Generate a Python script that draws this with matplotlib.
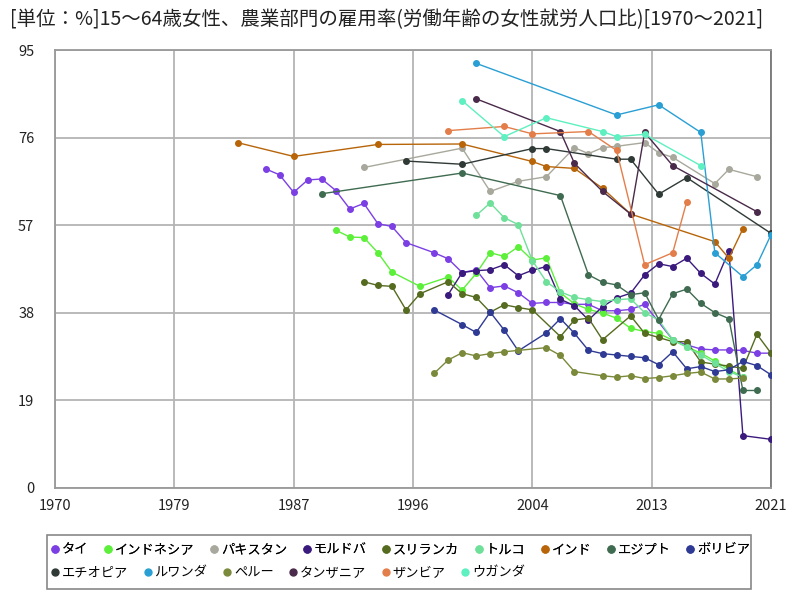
import matplotlib.pyplot as plt
from matplotlib.lines import Line2D
from matplotlib.patches import Rectangle

plt.rcParams['font.family'] = ['Noto Sans CJK JP', 'DejaVu Sans']

# values (year -> % of working-age women)
thai_years = [1985, 1986, 1987, 1988, 1989, 1990, 1991, 1992, 1993, 1994, 1995, 1997, 1998, 1999, 2000,
              2001, 2002, 2003, 2004, 2005, 2006, 2007, 2008, 2009, 2010, 2011, 2012, 2014, 2015, 2016,
              2017, 2018, 2019, 2020, 2021]
thai_vals = [69.2, 67.9, 64.1, 66.8, 67.0, 64.5, 60.5, 61.7, 57.3, 56.7, 53.2, 51.0, 49.7, 46.7, 47.3,
             43.4, 43.8, 42.3, 40.0, 40.2, 40.2, 39.8, 39.8, 38.4, 38.4, 38.7, 39.8, 32.1, 31.0, 30.1,
             29.9, 29.9, 29.8, 29.2, 29.2]

indonesia_years = [1990, 1991, 1992, 1993, 1994, 1996, 1998, 1999, 2000, 2001, 2002, 2003, 2004, 2005,
                   2006, 2007, 2008, 2009, 2010, 2011, 2012, 2013, 2014, 2015, 2016, 2017, 2018, 2019]
indonesia_vals = [55.9, 54.4, 54.3, 51.0, 46.8, 43.7, 45.7, 42.9, 46.5, 51.0, 50.2, 52.3, 49.4, 49.9,
                  42.3, 39.9, 38.7, 37.9, 36.8, 34.6, 33.9, 33.5, 32.0, 30.6, 29.2, 27.5, 25.7, 24.0]

pakistan_years = [1992, 1999, 2001, 2003, 2005, 2007, 2008, 2009, 2010, 2012, 2013, 2014, 2017, 2018, 2020]
pakistan_vals = [69.5, 73.7, 64.3, 66.5, 67.5, 73.8, 72.5, 73.8, 74.1, 74.9, 72.7, 71.7, 66.0, 69.1, 67.5]

moldova_years = [1998, 1999, 2000, 2001, 2002, 2003, 2004, 2005, 2006, 2007, 2008, 2009, 2010, 2011,
                 2012, 2013, 2014, 2015, 2016, 2017, 2018, 2019, 2021]
moldova_vals = [41.9, 46.7, 47.1, 47.3, 48.4, 46.0, 47.2, 48.0, 40.9, 39.5, 36.4, 39.3, 41.2, 42.2,
                46.2, 48.6, 48.0, 49.8, 46.5, 44.2, 51.4, 11.3, 10.5]

srilanka_years = [1992, 1993, 1994, 1995, 1996, 1998, 1999, 2000, 2001, 2002, 2003, 2004, 2006, 2007,
                  2008, 2009, 2011, 2012, 2013, 2014, 2015, 2016, 2017, 2018, 2019, 2020, 2021]
srilanka_vals = [44.7, 43.9, 43.7, 38.6, 42.1, 44.7, 42.1, 41.3, 38.1, 39.7, 39.1, 38.6, 32.8, 36.4,
                 36.8, 32.1, 37.3, 33.5, 32.6, 31.7, 31.7, 27.3, 26.8, 26.4, 25.9, 33.3, 29.2]

turkey_years = [2000, 2001, 2002, 2003, 2004, 2005, 2006, 2007, 2008, 2009, 2010, 2011, 2012, 2013,
                2014, 2015, 2016, 2017, 2018, 2019]
turkey_vals = [59.1, 61.8, 58.6, 57.1, 49.3, 44.7, 42.5, 41.3, 40.8, 40.4, 40.8, 41.0, 38.0, 36.4,
               32.1, 30.5, 28.8, 27.0, 25.2, 24.0]

india_years = [1983, 1987, 1993, 1999, 2004, 2005, 2007, 2009, 2011, 2017, 2018, 2019]
india_vals = [74.9, 71.9, 74.5, 74.6, 70.8, 69.7, 69.3, 65.0, 59.4, 53.4, 49.8, 56.2]

egypt_years = [1989, 1999, 2006, 2008, 2009, 2010, 2011, 2012, 2013, 2014, 2015, 2016, 2017, 2018,
               2019, 2020]
egypt_vals = [63.8, 68.3, 63.4, 46.2, 44.6, 44.0, 41.9, 42.3, 36.5, 42.1, 43.1, 40.0, 38.0, 36.7,
              21.1, 21.1]

bolivia_years = [1997, 1999, 2000, 2001, 2002, 2003, 2005, 2006, 2007, 2008, 2009, 2010, 2011, 2012,
                 2013, 2014, 2015, 2016, 2017, 2018, 2019, 2020, 2021]
bolivia_vals = [38.6, 35.4, 33.7, 38.1, 34.2, 29.7, 33.6, 36.7, 33.5, 29.8, 29.1, 28.8, 28.5, 28.2,
                26.7, 29.5, 25.8, 26.3, 25.2, 25.6, 27.4, 26.5, 24.5]

ethiopia_years = [1995, 1999, 2004, 2005, 2010, 2011, 2013, 2015, 2021]
ethiopia_vals = [70.9, 70.2, 73.6, 73.6, 71.3, 71.3, 63.7, 67.3, 55.2]

rwanda_years = [2000, 2010, 2013, 2016, 2017, 2019, 2020, 2021]
rwanda_vals = [92.1, 80.9, 83.1, 77.1, 51.0, 45.8, 48.4, 54.9]

peru_years = [1997, 1998, 1999, 2000, 2001, 2002, 2003, 2005, 2006, 2007, 2009, 2010, 2011, 2012,
              2013, 2014, 2015, 2016, 2017, 2018, 2019]
peru_vals = [24.8, 27.7, 29.3, 28.6, 29.1, 29.5, 29.8, 30.4, 28.7, 25.2, 24.3, 24.0, 24.3, 23.7,
             23.9, 24.3, 24.8, 25.1, 23.6, 23.6, 23.8]

tanzania_years = [2000, 2006, 2007, 2009, 2011, 2012, 2014, 2020]
tanzania_vals = [84.4, 77.3, 70.4, 64.3, 59.4, 77.1, 69.9, 59.9]

zambia_years = [1998, 2002, 2004, 2008, 2010, 2012, 2014, 2015]
zambia_vals = [77.5, 78.4, 76.8, 77.3, 73.2, 48.4, 51.0, 62.1]

uganda_years = [1999, 2002, 2005, 2009, 2010, 2012, 2016]
uganda_vals = [84.0, 76.2, 80.3, 77.3, 76.2, 76.7, 69.9]

names = ['タイ', 'インドネシア', 'パキスタン', 'モルドバ', 'スリランカ', 'トルコ', 'インド', 'エジプト',
         'ボリビア', 'エチオピア', 'ルワンダ', 'ペルー', 'タンザニア', 'ザンビア', 'ウガンダ']
colors = ['#7b3fe4', '#5cf03a', '#a8a89c', '#3b1a7e', '#556b1f', '#6fe09a', '#b8650a', '#3f6b50',
          '#2f3a94', '#2f3a36', '#2a9fd4', '#7a8a3a', '#4a2a4a', '#e37e4a', '#5ef0c0']
series = [(thai_years, thai_vals), (indonesia_years, indonesia_vals), (pakistan_years, pakistan_vals),
          (moldova_years, moldova_vals), (srilanka_years, srilanka_vals), (turkey_years, turkey_vals),
          (india_years, india_vals), (egypt_years, egypt_vals), (bolivia_years, bolivia_vals),
          (ethiopia_years, ethiopia_vals), (rwanda_years, rwanda_vals), (peru_years, peru_vals),
          (tanzania_years, tanzania_vals), (zambia_years, zambia_vals), (uganda_years, uganda_vals)]

x_ticks = [1970, 1978.5, 1987, 1995.5, 2004, 2012.5, 2021]
x_labels = ['1970', '1979', '1987', '1996', '2004', '2013', '2021']
y_ticks = [0, 19, 38, 57, 76, 95]

fig = plt.figure(figsize=(8, 6), dpi=100)
ax = fig.add_axes([55 / 800, 1 - 487.7 / 600, (771 - 55) / 800, (487.7 - 50) / 600])

for (yrs, vals), c in zip(series, colors):
    ax.plot(yrs, vals, color=c, lw=1, marker='o', ms=4, zorder=3)

ax.set_xlim(1970, 2021)
ax.set_ylim(0, 95)
ax.set_xticks(x_ticks)
ax.set_xticklabels(x_labels)
ax.set_yticks(y_ticks)
ax.tick_params(length=0, labelsize=10.5, colors='#222222')
ax.tick_params(axis='y', pad=15)
ax.tick_params(axis='x', pad=8)
ax.grid(True, color='#b4b4b4', lw=1.3)
ax.set_axisbelow(True)
for s in ax.spines.values():
    s.set_color('#999999')
    s.set_linewidth(1.3)
ax.spines['right'].set_color('#777777')

fig.text(10 / 800, 1 - 20 / 600, '[単位：%]15～64歳女性、農業部門の雇用率(労働年齢の女性就労人口比)[1970～2021]',
         fontsize=14, va='center', color='#222222')

# legend: two flowing rows inside one gray box
handles = [Line2D([], [], ls='none', marker='o', ms=5, color=c) for c in colors]
leg1 = fig.legend(handles[:9], names[:9], ncol=9, loc='center left', bbox_to_anchor=(50 / 800, 1 - 550 / 600),
                  frameon=False, fontsize=9.5, handletextpad=0.1, columnspacing=1.1, handlelength=0.8,
                  borderpad=0, borderaxespad=0)
leg2 = fig.legend(handles[9:], names[9:], ncol=6, loc='center left', bbox_to_anchor=(50 / 800, 1 - 573 / 600),
                  frameon=False, fontsize=9.5, handletextpad=0.1, columnspacing=1.1, handlelength=0.8,
                  borderpad=0, borderaxespad=0)
fig.add_artist(leg1)
fig.patches.append(Rectangle((47 / 800, 1 - 589 / 600), (751 - 47) / 800, (589 - 535) / 600,
                             transform=fig.transFigure, fill=False, ec='#888888', lw=1.2))

fig.savefig('out.png', dpi=100)
